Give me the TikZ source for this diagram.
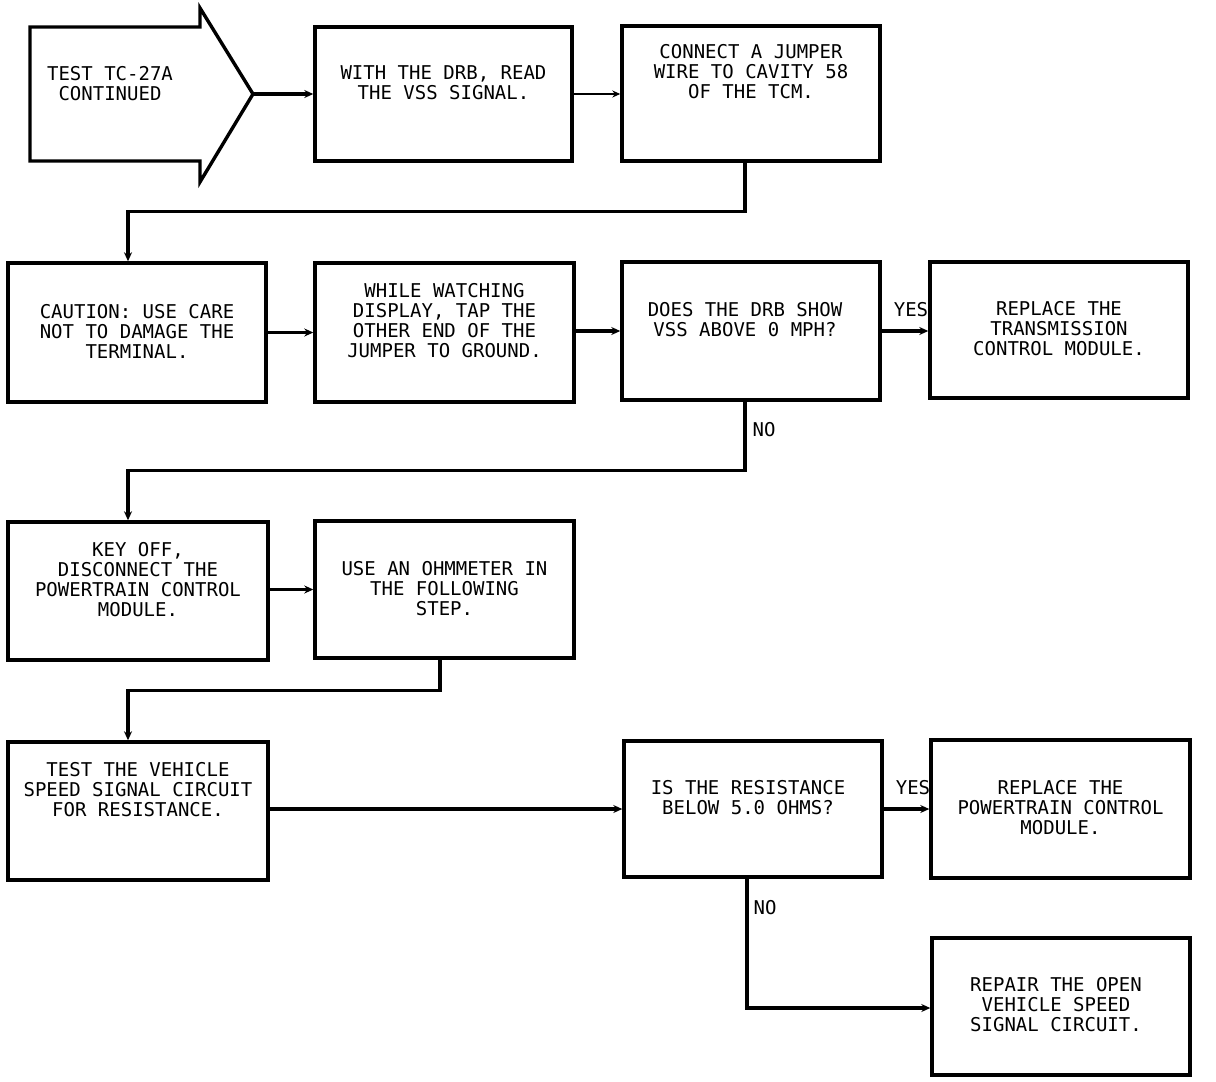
\documentclass[tikz,border=0pt]{standalone}
\usepackage{fontspec}
\setmonofont{DejaVu Sans Mono}
\usetikzlibrary{arrows.meta}
\tikzset{
  box/.style={draw, line width=3.4pt, minimum width=#1, inner sep=0pt},
  txt/.style={font=\ttfamily\fontsize{19}{20}\selectfont, align=center, inner sep=0pt},
  lbl/.style={font=\ttfamily\fontsize{19}{20}\selectfont, inner sep=0pt},
  conn/.style={line width=3.2pt, -{Stealth[length=9pt,width=8pt]}},
  thinconn/.style={line width=1.5pt, -{Stealth[length=8pt,width=7pt]}}
}
\begin{document}
\begin{tikzpicture}[x=1pt,y=-1pt]
\useasboundingbox[fill=white] (0,0) rectangle (1216,1082);
% start arrow
\coordinate (tip) at (253,94);
\draw[line width=3.4pt, line join=miter] (200,27) -- (200,8) -- (tip) -- (200,182) -- (200,161) -- (30,161) -- (30,27) -- cycle;
\node[txt] (t0) at (110,84) {TEST TC-27A\\CONTINUED};
% row 1
\node[box=257pt, minimum height=134pt] (b1) at (443.5,94) {};
\node[box=258pt, minimum height=135pt] (b2) at (751,93.5) {};
\node[txt] (t1) at (443.5,83) {WITH THE DRB, READ\\THE VSS SIGNAL.};
\node[txt] (t2) at (751,72) {CONNECT A JUMPER\\WIRE TO CAVITY 58\\OF THE TCM.};
% row 2
\node[box=258pt, minimum height=139pt] (b3) at (137,332.5) {};
\node[box=259pt, minimum height=139pt] (b4) at (444.5,332.5) {};
\node[box=258pt, minimum height=138pt] (b5) at (751,331) {};
\node[box=258pt, minimum height=136pt] (b6) at (1059,330) {};
\node[txt] (t3) at (137,331) {CAUTION: USE CARE\\NOT TO DAMAGE THE\\TERMINAL.};
\node[txt] (t4) at (444.5,321) {WHILE WATCHING\\DISPLAY, TAP THE\\OTHER END OF THE\\JUMPER TO GROUND.};
\node[txt] (t5) at (745,320) {DOES THE DRB SHOW\\VSS ABOVE 0 MPH?};
\node[txt] (t6) at (1059,329) {REPLACE THE\\TRANSMISSION\\CONTROL MODULE.};
% row 3
\node[box=260pt, minimum height=138pt] (b7) at (138,591) {};
\node[box=259pt, minimum height=137pt] (b8) at (444.5,589.5) {};
\node[txt] (t7) at (138,580) {KEY OFF,\\DISCONNECT THE\\POWERTRAIN CONTROL\\MODULE.};
\node[txt] (t8) at (444.5,589) {USE AN OHMMETER IN\\THE FOLLOWING\\STEP.};
% row 4
\node[box=260pt, minimum height=138pt] (b9) at (138,811) {};
\node[box=258pt, minimum height=136pt] (b10) at (753,809) {};
\node[box=259pt, minimum height=138pt] (b11) at (1060.5,809) {};
\node[box=258pt, minimum height=137pt] (b12) at (1061,1006.5) {};
\node[txt] (t9) at (138,790) {TEST THE VEHICLE\\SPEED SIGNAL CIRCUIT\\FOR RESISTANCE.};
\node[txt] (t10) at (748,798) {IS THE RESISTANCE\\BELOW 5.0 OHMS?};
\node[txt] (t11) at (1060.5,808) {REPLACE THE\\POWERTRAIN CONTROL\\MODULE.};
\node[txt] (t12) at (1056,1005) {REPAIR THE OPEN\\VEHICLE SPEED\\SIGNAL CIRCUIT.};
% labels
\node[lbl] (y1) at (911,310) {YES};
\node[lbl] (n1) at (764,430) {NO};
\node[lbl] (y2) at (913,788) {YES};
\node[lbl] (n2) at (765,908) {NO};
% connectors
\draw[conn] (tip) -- (b1.west);
\draw[thinconn] (b1.east) -- (b1.east -| b2.west);
\draw[conn] ([xshift=-6pt]b2.south) -- ++(0,49) -| ([xshift=-9pt]b3.north);
\draw[conn] (b3.east) -- (b3.east -| b4.west);
\draw[conn] (b4.east |- b5.west) -- (b5.west);
\draw[conn] (b5.east) -- (b5.east -| b6.west);
\draw[conn] ([xshift=-6pt]b5.south) -- ++(0,69) -| ([xshift=-10pt]b7.north);
\draw[conn] (b7.east |- b8.west) -- (b8.west);
\draw[conn] ([xshift=-4.5pt]b8.south) -- ++(0,31) -| ([xshift=-10pt]b9.north);
\draw[conn] (b9.east |- b10.west) -- (b10.west);
\draw[conn] (b10.east) -- (b10.east -| b11.west);
\draw[conn] ([xshift=-6pt]b10.south) |- ([yshift=-1.5pt]b12.west);
\end{tikzpicture}
\end{document}
